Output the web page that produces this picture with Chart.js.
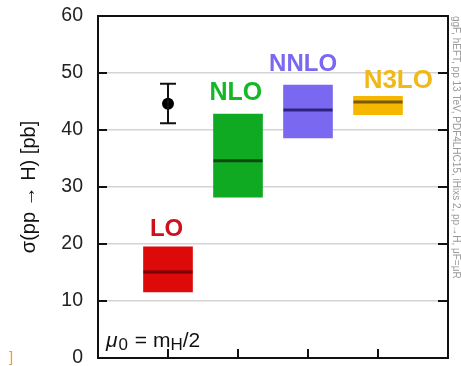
<!DOCTYPE html>
<html>
<head>
<meta charset="utf-8">
<script src="https://cdn.jsdelivr.net/npm/chart.js@4"></script>
<style>
html,body{margin:0;padding:0;background:#fff;}
#wrap{width:461px;height:366px;position:relative;}
</style>
</head>
<body>
<div id="wrap"><canvas id="c" width="461" height="366"></canvas></div>
<script>
// ---- data ----
const orders = ["LO", "NLO", "NNLO", "N3LO"];
const orderPos = [1, 2, 3, 4];
const boxLow = [11.6, 28.2, 38.6, 42.7];
const boxHigh = [19.5, 42.8, 47.9, 45.9];
const central = [15.1, 34.6, 43.5, 44.9];
const expPos = [1];
const expValue = [44.6];
const expLow = [41.2];
const expHigh = [48.1];
const yTicks = [0, 10, 20, 30, 40, 50, 60];

// ---- styles ----
const BOX_W = 49;
const boxColors = ["#dd0a0a", "#10aa22", "#7a68f0", "#f5b700"];
const lineColors = ["#7a0000", "#0a4a12", "#2e2480", "#7a5a00"];
const labelColors = ["#cc1020", "#14b826", "#7a68f0", "#f2b81a"];
const labelFont = [24, 25, 24, 26];
const labelAnchor = [[0.98, 21.4], [1.97, 45.3], [2.93, 50.4], [4.29, 47.4]];

const FONT = "'Liberation Sans', Arial, sans-serif";

const decorPlugin = {
  id: 'decor',
  afterDatasetsDraw(chart) {
    const ctx = chart.ctx;
    const xs = chart.scales.x, ys = chart.scales.y;
    ctx.save();
    ctx.lineWidth = 3;
    central.forEach((v, i) => {
      const px = xs.getPixelForValue(orderPos[i]);
      const py = ys.getPixelForValue(v);
      ctx.strokeStyle = lineColors[i];
      ctx.beginPath();
      ctx.moveTo(px - BOX_W / 2, py); ctx.lineTo(px + BOX_W / 2, py);
      ctx.stroke();
    });
    ctx.strokeStyle = '#111';
    ctx.lineWidth = 2;
    expPos.forEach((p, i) => {
      const px = xs.getPixelForValue(p);
      const top = ys.getPixelForValue(expHigh[i]);
      const bot = ys.getPixelForValue(expLow[i]);
      ctx.beginPath();
      ctx.moveTo(px, top); ctx.lineTo(px, bot);
      ctx.moveTo(px - 8, top); ctx.lineTo(px + 8, top);
      ctx.moveTo(px - 8, bot); ctx.lineTo(px + 8, bot);
      ctx.stroke();
    });
    ctx.restore();
  },
  afterDraw(chart) {
    const ctx = chart.ctx;
    const xs = chart.scales.x, ys = chart.scales.y;
    const a = chart.chartArea;
    ctx.save();
    ctx.textAlign = 'center';
    ctx.textBaseline = 'alphabetic';
    orders.forEach((name, i) => {
      ctx.font = 'bold ' + labelFont[i] + 'px ' + FONT;
      ctx.fillStyle = labelColors[i];
      ctx.fillText(name, xs.getPixelForValue(labelAnchor[i][0]), ys.getPixelForValue(labelAnchor[i][1]));
    });
    ctx.strokeStyle = '#111';
    ctx.lineWidth = 2;
    ctx.strokeRect(a.left, a.top, a.right - a.left, a.bottom - a.top);
    ctx.beginPath();
    yTicks.forEach(v => {
      const py = ys.getPixelForValue(v);
      ctx.moveTo(a.left, py); ctx.lineTo(a.left + 9, py);
      ctx.moveTo(a.right, py); ctx.lineTo(a.right - 10, py);
    });
    orderPos.forEach(v => {
      const px = xs.getPixelForValue(v);
      ctx.moveTo(px, a.bottom); ctx.lineTo(px, a.bottom - 9);
    });
    ctx.stroke();
    // scale choice annotation
    ctx.fillStyle = '#111';
    ctx.textAlign = 'left';
    const MAIN = '21px ' + FONT, SUB = '17px ' + FONT;
    let x = a.left + 8, base = a.bottom - 11;
    ctx.font = 'italic ' + MAIN;
    ctx.fillText('\u03bc', x, base); x += ctx.measureText('\u03bc').width + 1;
    ctx.font = SUB;
    ctx.fillText('0', x, base + 3); x += ctx.measureText('0').width + 1;
    ctx.font = MAIN;
    ctx.fillText(' = m', x, base); x += ctx.measureText(' = m').width;
    ctx.font = SUB;
    ctx.fillText('H', x, base + 3); x += ctx.measureText('H').width;
    ctx.font = MAIN;
    ctx.fillText('/2', x, base);
    // side note
    ctx.save();
    ctx.translate(453, 16);
    ctx.rotate(Math.PI / 2);
    ctx.fillStyle = '#9a9a9a';
    ctx.font = '10px ' + FONT;
    ctx.fillText('ggF, hEFT, pp 13 TeV, PDF4LHC15, iHixs 2, pp\u2192H, \u03bcF=\u03bcR', 0, 0);
    ctx.restore();
    ctx.fillStyle = '#f0a020';
    ctx.font = '15px ' + FONT;
    ctx.fillText(']', 9, 362);
    ctx.restore();
  }
};

new Chart(document.getElementById('c'), {
  type: 'bar',
  data: {
    datasets: [
      {
        type: 'scatter',
        data: expValue.map((v, i) => ({x: expPos[i], y: v})),
        pointStyle: 'circle',
        pointRadius: 6,
        pointHoverRadius: 6,
        backgroundColor: '#000',
        borderColor: '#000',
        borderWidth: 0,
        order: 0
      },
      {
        type: 'bar',
        data: boxLow.map((v, i) => ({x: orderPos[i], y: [v, boxHigh[i]]})),
        backgroundColor: boxColors,
        borderWidth: 0,
        barThickness: BOX_W,
        grouped: false,
        order: 1
      }
    ]
  },
  options: {
    responsive: false,
    animation: false,
    events: [],
    layout: {padding: {left: 0, right: 13, top: 16, bottom: 0}},
    plugins: {legend: {display: false}, tooltip: {enabled: false}},
    scales: {
      x: {
        type: 'linear', min: 0, max: 5, offset: false,
        ticks: {display: false, stepSize: 1},
        grid: {display: false, drawTicks: false},
        border: {display: false},
        afterFit(s) { s.height = 8; s.paddingLeft = 0; s.paddingRight = 0; s.paddingTop = 0; s.paddingBottom = 0; }
      },
      y: {
        min: 0, max: 60,
        ticks: {stepSize: 10, padding: 15, color: '#222', font: {family: FONT, size: 19.5}},
        grid: {
          drawTicks: false,
          color: ctx => (ctx.tick && (ctx.tick.value === 0 || ctx.tick.value === 60)) ? 'rgba(0,0,0,0)' : '#d4d4d4',
          lineWidth: 1.6
        },
        border: {display: false},
        title: {display: true, text: 'σ(pp → H) [pb]', color: '#111', font: {family: FONT, size: 20}, padding: {top: 17, bottom: 0}},
        afterFit(s) { s.width = 98; s.paddingTop = 0; s.paddingBottom = 0; s.paddingLeft = 0; s.paddingRight = 0; }
      }
    }
  },
  plugins: [decorPlugin]
});
</script>
</body>
</html>
